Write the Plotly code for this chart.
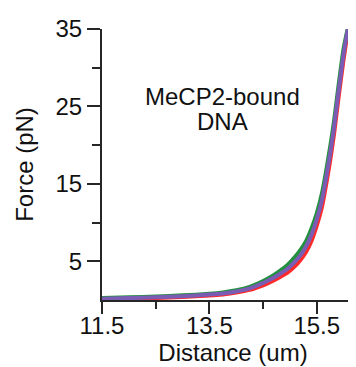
import plotly.graph_objects as go

# Purple (middle) trace
dist_purple = [11.5, 12.0, 12.5, 13.0, 13.5, 13.75, 14.0, 14.25, 14.5, 14.65, 14.8, 14.95, 15.1, 15.2, 15.3, 15.4, 15.5, 15.6, 15.67, 15.75, 15.82, 15.9, 16.0, 16.08]
force_purple = [0.15, 0.25, 0.35, 0.5, 0.7, 0.85, 1.1, 1.5, 2.2, 2.7, 3.3, 4.0, 5.0, 5.8, 6.9, 8.4, 10.4, 13.0, 15.6, 18.9, 22.2, 26.6, 31.8, 35.0]

# Green (upper-left) trace
dist_green = [11.5, 12.0, 12.5, 13.0, 13.5, 13.75, 14.0, 14.25, 14.5, 14.65, 14.8, 14.95, 15.1, 15.2, 15.3, 15.4, 15.5, 15.6, 15.67, 15.75, 15.82, 15.9, 16.0, 16.075]
force_green = [0.25, 0.35, 0.45, 0.6, 0.8, 0.97, 1.25, 1.7, 2.45, 3.0, 3.7, 4.5, 5.6, 6.5, 7.6, 9.2, 11.2, 13.9, 16.5, 19.8, 23.0, 27.4, 32.5, 35.0]

# Red (lower-right) trace
dist_red = [11.5, 12.0, 12.5, 13.0, 13.5, 13.75, 14.0, 14.25, 14.5, 14.65, 14.8, 14.95, 15.1, 15.2, 15.3, 15.4, 15.5, 15.6, 15.67, 15.75, 15.82, 15.9, 16.0, 16.085]
force_red = [0.08, 0.15, 0.25, 0.4, 0.58, 0.72, 0.95, 1.3, 1.9, 2.35, 2.9, 3.5, 4.4, 5.2, 6.2, 7.6, 9.6, 12.1, 14.7, 18.0, 21.3, 25.8, 31.1, 35.0]

x_major = [11.5, 13.5, 15.5]
x_minor = [12.5, 14.5]
y_major = [5, 15, 25, 35]
y_minor = [10, 20, 30]

label_lines = ["MeCP2-bound", "DNA"]

FONT = "Liberation Sans, Arial, sans-serif"
AX = "#262626"

fig = go.Figure()
fig.add_trace(go.Scatter(x=dist_red, y=force_red, mode="lines",
                         line=dict(color="#ff2a2a", width=4, shape="spline", smoothing=0.5), cliponaxis=False))
fig.add_trace(go.Scatter(x=dist_green, y=force_green, mode="lines",
                         line=dict(color="#23903f", width=4, shape="spline", smoothing=0.5), cliponaxis=False))
fig.add_trace(go.Scatter(x=dist_purple, y=force_purple, mode="lines",
                         line=dict(color="#7a5cb4", width=4, shape="spline", smoothing=0.5), cliponaxis=False))

fig.add_annotation(x=13.746, y=26.3, xref="x", yref="y", text=label_lines[0], showarrow=False,
                   font=dict(family=FONT, size=24, color="#111"), yanchor="middle")
fig.add_annotation(x=13.746, y=23.07, xref="x", yref="y", text=label_lines[1], showarrow=False,
                   font=dict(family=FONT, size=24, color="#111"), yanchor="middle")

fig.update_layout(
    width=356, height=367,
    margin=dict(l=94, r=0, t=21, b=75),
    paper_bgcolor="white", plot_bgcolor="white",
    showlegend=False,
    font=dict(family=FONT, size=24, color="#111"),
    xaxis=dict(range=[11.5, 16.38], tickvals=x_major, ticktext=[str(v) for v in x_major],
               ticks="outside", ticklen=12, tickwidth=2, tickcolor=AX,
               minor=dict(tickvals=x_minor, ticks="outside", ticklen=7, tickwidth=2, tickcolor=AX),
               showline=True, linewidth=2, linecolor=AX, showgrid=False, zeroline=False,
               ticklabelstandoff=-9,
               title=dict(text="Distance (um)", font=dict(size=24), standoff=0),
               tickfont=dict(size=24)),
    yaxis=dict(range=[0, 35], tickvals=y_major, ticktext=[str(v) for v in y_major],
               ticks="outside", ticklen=13, tickwidth=2, tickcolor=AX,
               minor=dict(tickvals=y_minor, ticks="outside", ticklen=8, tickwidth=2, tickcolor=AX),
               showline=True, linewidth=2, linecolor=AX, showgrid=False, zeroline=False,
               title=dict(text="Force (pN)", font=dict(size=24), standoff=15),
               tickfont=dict(size=24)),
)

fig.write_html("out.html")
